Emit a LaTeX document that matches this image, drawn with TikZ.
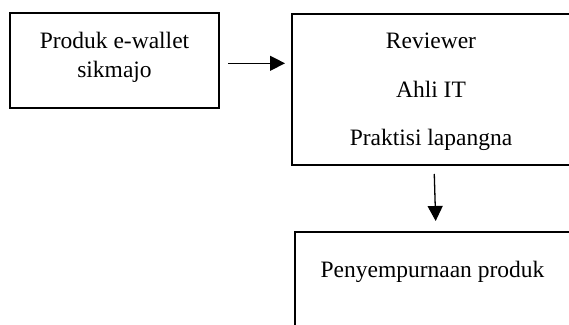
\documentclass[tikz,border=0pt]{standalone}
\usepackage{fontspec}
\setmainfont{Liberation Serif}
\usetikzlibrary{arrows.meta}
\begin{document}
\begin{tikzpicture}[x=1pt,y=-1pt,
  box/.style={draw, line width=1.8pt, inner sep=0pt, outer sep=0pt},
  lbl/.style={anchor=base, inner sep=0pt, font=\fontsize{23.5}{28}\selectfont},
  arr/.style={line width=1.3pt, -{Triangle[length=15pt,width=15pt]}}]
\useasboundingbox (0,0) rectangle (569,324);
\clip (0,0) rectangle (569,324);

% boxes
\node[box, minimum width=209pt, minimum height=95pt] (b1) at (114.5,60.5) {};
\node[box, minimum width=278pt, minimum height=151pt] (b2) at (431,89.5) {};
\node[box, minimum width=274.5pt, minimum height=108pt] (b3) at (432.25,286) {};

% labels
\node[lbl] (t1a) at (114.5,48) {Produk e-wallet};
\node[lbl] (t1b) at (114.5,77) {sikmajo};
\node[lbl] (t2a) at (431,48) {Reviewer};
\node[lbl] (t2b) at (431,97) {Ahli IT};
\node[lbl] (t2c) at (431,145) {Praktisi lapangna};
\node[lbl] (t3) at (432.5,277) {Penyempurnaan produk};

% connectors
\draw[arr, shorten <=9pt, shorten >=7pt]
  ([yshift=-2.8pt]b1.east) -- ([yshift=-2.8pt]b1.east -| b2.west);
\draw[arr, shorten <=9pt, shorten >=11pt]
  ([xshift=3pt]b2.south) -- ([xshift=3.75pt]b3.north);
\end{tikzpicture}
\end{document}
